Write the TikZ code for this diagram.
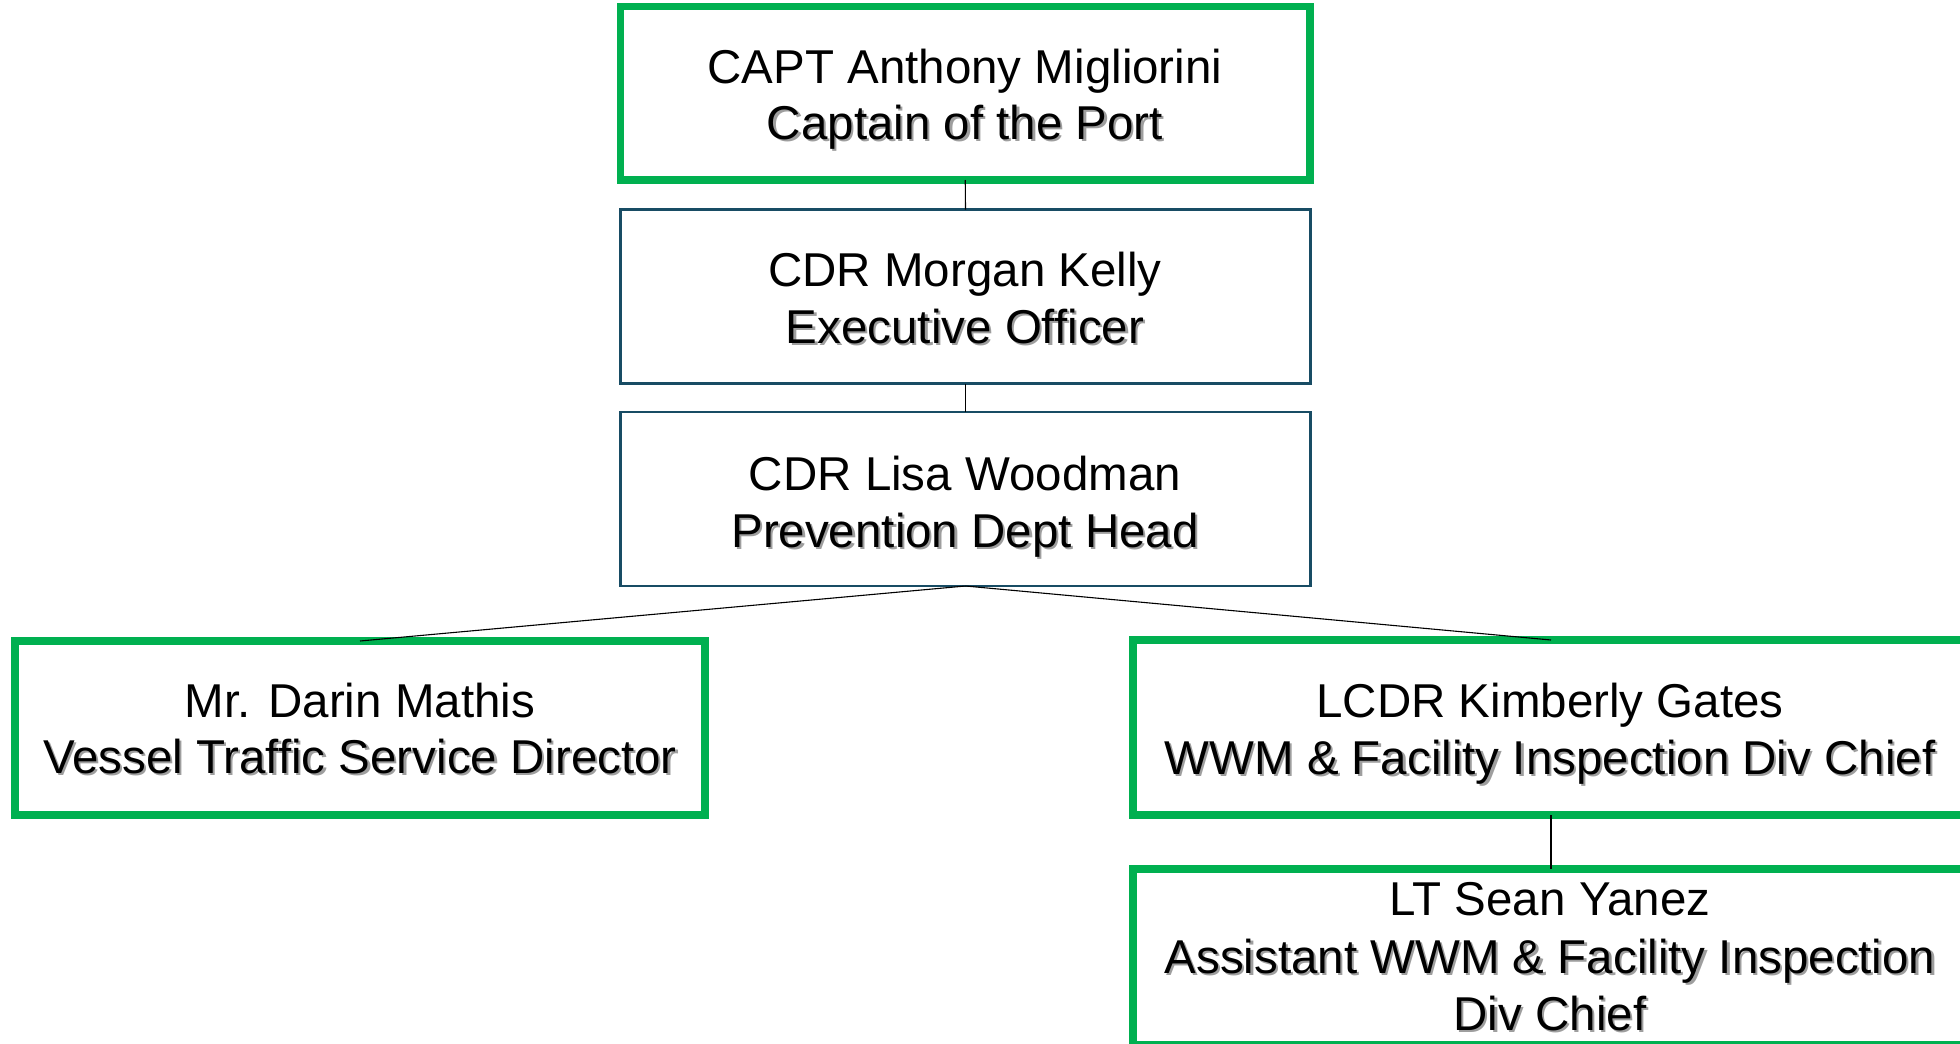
\documentclass[tikz,border=0pt]{standalone}
\usepackage{fontspec}
\setmainfont{Liberation Sans}
\usepackage{xcolor}
\definecolor{boxgreen}{HTML}{00B050}
\definecolor{boxblue}{RGB}{24,76,100}
\newcommand\shadtxt[1]{\makebox[0pt][l]{\hspace{2.2pt}\raisebox{-2.2pt}{\textcolor{black!38}{#1}}}#1}
\begin{document}
\begin{tikzpicture}[x=1pt,y=-1pt,
  greenbox/.style={draw=boxgreen,line width=7.5pt,rectangle,inner sep=0pt,outer sep=0pt},
  bluebox/.style={draw=boxblue,line width=2.7pt,rectangle,inner sep=0pt,outer sep=0pt},
  txt/.style={anchor=base,inner sep=0pt,font=\fontsize{47.5}{56}\selectfont},
  conn/.style={draw=black,line width=1.1pt}]
\useasboundingbox (0,0) rectangle (1960,1044);
\clip (0,0) rectangle (1960,1044);
% boxes
\node[greenbox,minimum width=689.5pt,minimum height=173.7pt] (capt) at (965.25,93.15) {};
\node[bluebox,minimum width=690pt,minimum height=174pt] (xo) at (965.5,296.5) {};
\node[bluebox,minimum width=690pt,minimum height=174pt] (prev) at (965.5,499) {};
\node[greenbox,minimum width=690pt,minimum height=174pt] (vts) at (360,728) {};
\node[greenbox,minimum width=836pt,minimum height=175pt] (wwm) at (1551,727.5) {};
\node[greenbox,minimum width=836pt,minimum height=176pt] (asst) at (1551,957) {};
% connectors
\draw[conn] (capt.south) -- (xo.north);
\draw[conn] (xo.south) -- (prev.north);
\draw[conn] (prev.south) -- (vts.north);
\draw[conn] (prev.south) -- (wwm.north);
\draw[conn] (wwm.south) -- (asst.north);
% texts
\node[txt] (capt1) at (965,83) {CAPT Anthony Migliorini};
\node[txt] (capt2) at (965,139) {\shadtxt{Captain of the Port}};
\node[txt] (xo1) at (965,286) {CDR Morgan Kelly};
\node[txt] (xo2) at (965,343) {\shadtxt{Executive Officer}};
\node[txt] (prev1) at (965,490) {CDR Lisa Woodman};
\node[txt] (prev2) at (965,547) {\shadtxt{Prevention Dept Head}};
\node[txt] (vts1) at (360,717) {Mr. Darin Mathis};
\node[txt] (vts2) at (360,773) {\shadtxt{Vessel Traffic Service Director}};
\node[txt] (wwm1) at (1550,717) {LCDR Kimberly Gates};
\node[txt] (wwm2) at (1550,774) {\shadtxt{WWM \& Facility Inspection Div Chief}};
\node[txt] (asst1) at (1550,915) {LT Sean Yanez};
\node[txt] (asst2) at (1550,973) {\shadtxt{Assistant WWM \& Facility Inspection}};
\node[txt] (asst3) at (1550,1030) {\shadtxt{Div Chief}};
\end{tikzpicture}
\end{document}
